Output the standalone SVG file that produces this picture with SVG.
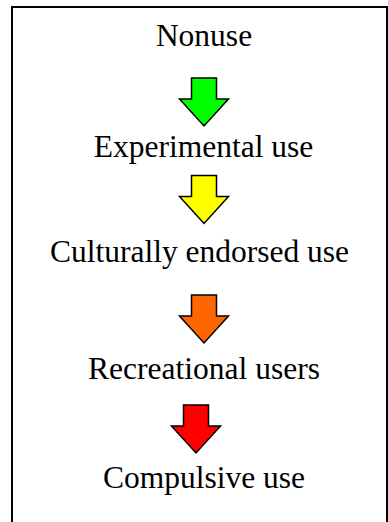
<svg xmlns="http://www.w3.org/2000/svg" width="388" height="522" viewBox="0 0 388 522">
<defs>
<style>
.lbl{font-family:"Liberation Serif","Times New Roman",serif;font-size:31.5px;fill:#000;text-anchor:middle}
.arr{stroke:#000;stroke-width:1.5;stroke-linejoin:miter}
</style>
<path id="arrowShape" d="M-12.5,0 H12.5 V21 H24.5 L0,48 L-24.5,21 H-12.5 Z"/>
</defs>
<rect x="0" y="0" width="388" height="522" fill="#fff"/>
<path d="M12,530 V7 H387 V530" fill="none" stroke="#000" stroke-width="2"/>
<g id="n1"><text class="lbl" x="204" y="46">Nonuse</text></g>
<g id="n2"><text class="lbl" x="203.5" y="157">Experimental use</text></g>
<g id="n3"><text class="lbl" x="199.5" y="262">Culturally endorsed use</text></g>
<g id="n4"><text class="lbl" x="204" y="379">Recreational users</text></g>
<g id="n5"><text class="lbl" x="204" y="488">Compulsive use</text></g>
<g id="connectors">
<use href="#arrowShape" class="arr" transform="translate(204,78)" fill="#00FF00"/>
<use href="#arrowShape" class="arr" transform="translate(204,175.5)" fill="#FFFF00"/>
<use href="#arrowShape" class="arr" transform="translate(204,295)" fill="#FF6600"/>
<use href="#arrowShape" class="arr" transform="translate(196,405)" fill="#FF0000"/>
</g>
</svg>
